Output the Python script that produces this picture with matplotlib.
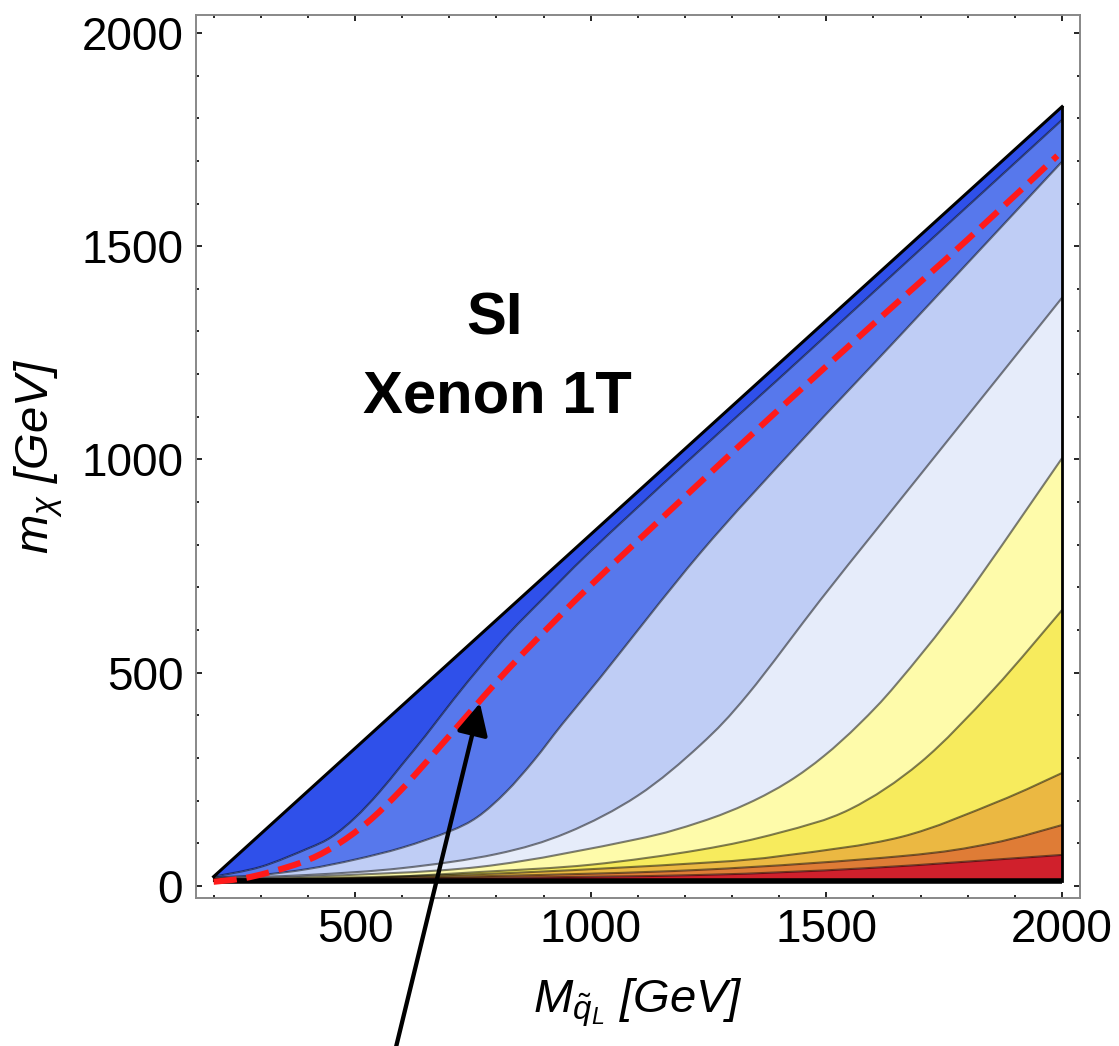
import numpy as np
import matplotlib
matplotlib.use("Agg")
import matplotlib.pyplot as plt
from matplotlib.path import Path
from matplotlib.patches import PathPatch

plt.rcParams['font.family'] = ['Liberation Sans', 'DejaVu Sans']
plt.rcParams['mathtext.fontset'] = 'custom'
plt.rcParams['mathtext.rm'] = 'Liberation Sans'
plt.rcParams['mathtext.it'] = 'Liberation Sans:italic'
plt.rcParams['mathtext.bf'] = 'Liberation Sans:bold'

# region edges (squark mass vs dark matter mass)
edge_x = [200, 2000]
edge_top = [22, 1827]
floor_y = 12

# contour curves, from upper-left to lower-right
c1_x = [200, 300, 400, 450, 500, 550, 600, 650, 708, 770, 829, 900, 1000, 1200, 1400, 1600, 1800, 2000]
c1_y = [22, 45, 88, 115, 160, 218, 285, 353, 436, 520, 595, 675, 785, 990, 1190, 1392, 1594, 1796]

c2_x = [200, 300, 400, 500, 600, 700, 760, 820, 880, 940, 1020, 1232, 1444, 1656, 2000]
c2_y = [20, 26, 40, 62, 90, 128, 162, 220, 295, 380, 488, 780, 1040, 1290, 1698]

c3_x = [200, 400, 600, 800, 950, 1100, 1232, 1334, 1487, 1600, 1726, 1850, 2000]
c3_y = [18, 26, 42, 75, 125, 212, 330, 450, 670, 827, 1001, 1172, 1379]

c4_x = [200, 400, 765, 1090, 1232, 1334, 1420, 1495, 1570, 1650, 1790, 2000]
c4_y = [16, 22, 45, 108, 150, 194, 245, 305, 380, 475, 670, 1003]

c5_x = [200, 500, 765, 1000, 1232, 1400, 1550, 1700, 1854, 2000]
c5_y = [15, 18, 33, 50, 85, 125, 180, 290, 460, 647]

c6_x = [200, 765, 1232, 1414, 1658, 1862, 2000]
c6_y = [14, 28, 54, 72, 115, 197, 265]

c7_x = [200, 765, 1232, 1658, 1850, 2000]
c7_y = [13.5, 23, 38, 70, 100, 143]

c8_x = [200, 765, 1232, 1586, 2000]
c8_y = [13, 19, 26, 42, 73]

# red dashed curve
red_x = [200, 277, 383, 453, 525, 595, 665, 738, 808, 878, 1000, 1200, 1400, 1600, 1800, 1990]
red_y = [10, 21, 54, 91, 148, 222, 308, 400, 488, 570, 705, 913, 1118, 1318, 1516, 1712]

band_colors = ['#2f50ea', '#5778ec', '#bfcdf5', '#e6ecfa', '#fefbaa',
               '#f7eb5d', '#ebb842', '#df7c36', '#d0202c']

contours = [(c1_x, c1_y), (c2_x, c2_y), (c3_x, c3_y), (c4_x, c4_y),
            (c5_x, c5_y), (c6_x, c6_y), (c7_x, c7_y), (c8_x, c8_y)]
bounds = [(edge_x, edge_top)] + contours + [(edge_x, [floor_y, floor_y])]


def bezier_through(xs, ys):
    """Smooth cubic path through the read points (Catmull-Rom handles)."""
    p = np.column_stack([xs, ys]).astype(float)
    n = len(p)
    verts = [p[0]]
    codes = [Path.MOVETO]
    for i in range(n - 1):
        p0 = p[i - 1] if i > 0 else p[i]
        p3 = p[i + 2] if i + 2 < n else p[i + 1]
        verts += [p[i] + (p[i + 1] - p0) / 6, p[i + 1] - (p3 - p[i]) / 6, p[i + 1]]
        codes += [Path.CURVE4] * 3
    return verts, codes


fig = plt.figure(figsize=(11.19, 10.46), dpi=100)
ax = fig.add_axes([0.1749, 0.1415, 0.7902, 0.8442])

# filled bands between successive boundaries
for (xa, ya), (xb, yb), col in zip(bounds[:-1], bounds[1:], band_colors):
    va, ca = bezier_through(xa, ya)
    vb, cb = bezier_through(xb, yb)
    verts = va + vb[::-1] + [va[0]]
    codes = ca + [Path.LINETO] + cb[1:] + [Path.CLOSEPOLY]
    ax.add_patch(PathPatch(Path(verts, codes), facecolor=col, lw=0, zorder=1))

for cx, cy in contours:
    v, c = bezier_through(cx, cy)
    ax.add_patch(PathPatch(Path(v, c), fill=False, edgecolor=(0, 0, 0, 0.5),
                           lw=1.5, zorder=2))

# outline of the allowed region
ax.plot(edge_x, edge_top, color='black', lw=2.2, zorder=3)
ax.plot([edge_x[1], edge_x[1]], [floor_y, edge_top[1]], color='black', lw=2, zorder=3)
ax.plot([edge_x[0], edge_x[0]], [floor_y, edge_top[0]], color='black', lw=1.5, zorder=3)
ax.plot(edge_x, [floor_y, floor_y], color='black', lw=4, solid_capstyle='butt', zorder=3)

v, c = bezier_through(red_x, red_y)
ax.add_patch(PathPatch(Path(v, c), fill=False, edgecolor='#ff1a1a', lw=4.4,
                       linestyle=(0, (3.8, 1.6)), capstyle='butt', zorder=4))

ax.text(797, 1292, 'SI', ha='center', va='baseline', fontsize=43, fontweight='bold')
ax.text(801, 1111, 'Xenon 1T', ha='center', va='baseline', fontsize=43, fontweight='bold')

ax.annotate('', xy=(765, 429), xycoords='data',
            xytext=(395 / 1119, -0.005), textcoords='figure fraction',
            arrowprops=dict(arrowstyle='-|>,head_length=1.2,head_width=0.6',
                            lw=3.1, color='black', mutation_scale=16,
                            shrinkA=0, shrinkB=0),
            annotation_clip=False, zorder=5)

ax.set_xlim(162, 2038)
ax.set_ylim(-28, 2042)
ax.set_xticks([500, 1000, 1500, 2000])
ax.set_xticks(np.arange(200, 2001, 100), minor=True)
ax.set_yticks([0, 500, 1000, 1500, 2000])
ax.set_yticks(np.arange(0, 2001, 100), minor=True)
ax.tick_params(which='both', direction='in', top=True, right=True, width=1.2, color='black')
ax.tick_params(which='major', length=4)
ax.tick_params(which='minor', length=2.5)
ax.tick_params(axis='x', which='major', labelsize=33, pad=7)
ax.tick_params(axis='y', which='major', labelsize=33, pad=9)
for sp in ax.spines.values():
    sp.set_color('#888888')
    sp.set_linewidth(1.4)

ax.set_xlabel(r'$M_{\tilde{q}_L}$ [GeV]', fontsize=34, style='italic', labelpad=18)
ax.set_ylabel(r'$m_{\chi}$ [GeV]', fontsize=34, style='italic', labelpad=12)

fig.savefig('out.png', dpi=100)
